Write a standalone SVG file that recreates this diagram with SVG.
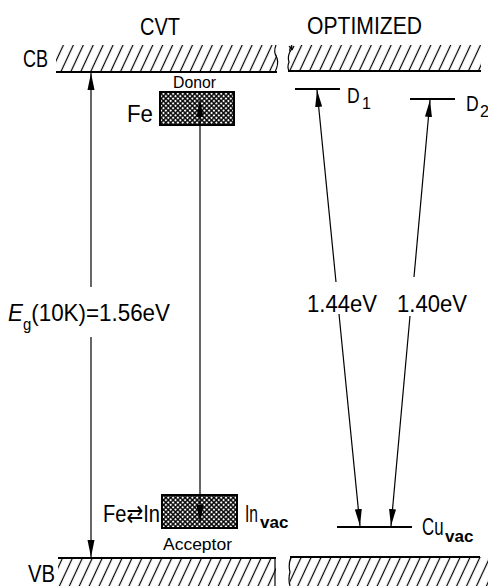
<svg xmlns="http://www.w3.org/2000/svg" width="488" height="586" viewBox="0 0 488 586">
<style>
text{font-family:"Liberation Sans","DejaVu Sans",sans-serif;fill:#000}
.big{font-size:24px}
.sm{font-size:17px}
.sub{font-size:16px}
.vac{font-size:17px;font-weight:bold}
.ln{stroke:#000;stroke-width:1.2;fill:none}
.lvl{stroke:#000;stroke-width:2.2}
.edge{stroke:#000;stroke-width:2.2}
.cut{stroke:#000;stroke-width:1.2;fill:none}
</style>
<defs>
<pattern id="hatch" width="9" height="12" patternUnits="userSpaceOnUse" patternTransform="rotate(25)">
<line x1="4.5" y1="0" x2="4.5" y2="12" stroke="#000" stroke-width="1.2"/>
</pattern>
<pattern id="xh" width="3.4" height="3.4" patternUnits="userSpaceOnUse" patternTransform="rotate(45)">
<rect width="3.4" height="3.4" fill="#000"/>
<rect x="0.7" y="0.7" width="2" height="2" fill="#fff"/>
</pattern>
<marker id="ah" markerUnits="userSpaceOnUse" markerWidth="18" markerHeight="8" viewBox="0 0 18 8" refX="17" refY="4" orient="auto">
<path d="M0,0.5 L17,4 L0,7.5 z" fill="#000"/>
</marker>
</defs>

<g id="bands">
<rect x="56" y="45" width="221" height="27" fill="url(#hatch)"/>
<line class="edge" x1="56" y1="72" x2="277" y2="72"/>
<path class="cut" d="M276,45 Q273,52 277,58 Q279,64 275,72"/>
<rect x="289" y="45" width="192" height="26" fill="url(#hatch)"/>
<line class="edge" x1="288" y1="71" x2="481" y2="71"/>
<path class="cut" d="M292,46 L291,50 Q287,56 289,62 Q287,67 289,71 M289,46 L292,50 M294,46 L292,50"/>
<rect x="58" y="558" width="218" height="28" fill="url(#hatch)"/>
<line class="edge" x1="58" y1="558" x2="276" y2="558"/>
<path class="cut" d="M275,558 L275,586"/>
<rect x="290" y="557" width="198" height="29" fill="url(#hatch)"/>
<line class="edge" x1="290" y1="557" x2="480" y2="557"/>
<path class="cut" d="M291,557 Q288,565 290,572 Q288,579 290,586"/>
</g>

<g id="titles">
<text class="big" x="140" y="35" textLength="40" lengthAdjust="spacingAndGlyphs">CVT</text>
<text class="big" x="307" y="34" textLength="115" lengthAdjust="spacingAndGlyphs">OPTIMIZED</text>
</g>

<g id="cb-label"><text class="big" x="23" y="67" textLength="25" lengthAdjust="spacingAndGlyphs">CB</text></g>
<g id="vb-label"><text class="big" x="28" y="582" textLength="27" lengthAdjust="spacingAndGlyphs">VB</text></g>

<g id="donor">
<rect x="160" y="92" width="74" height="33" fill="url(#xh)" stroke="#000" stroke-width="2"/>
<text class="sm" x="173" y="88" textLength="43" lengthAdjust="spacingAndGlyphs">Donor</text>
<text class="big" x="127" y="122" textLength="26" lengthAdjust="spacingAndGlyphs">Fe</text>
</g>

<g id="acceptor">
<rect x="162" y="495" width="75" height="33" fill="url(#xh)" stroke="#000" stroke-width="2"/>
<text class="sm" x="163" y="550" textLength="69" lengthAdjust="spacingAndGlyphs">Acceptor</text>
<text class="big" x="103" y="522" textLength="57" lengthAdjust="spacingAndGlyphs">Fe⇄In</text>
<g transform="translate(245,522) scale(0.65,1)"><text class="big" x="0" y="0">In</text></g>
<text class="vac" x="260" y="528">vac</text>
</g>

<g id="gap-label">
<text class="big" x="8" y="321" textLength="162" lengthAdjust="spacingAndGlyphs"><tspan font-style="italic">E</tspan><tspan class="sub" dy="9">g</tspan><tspan dy="-9">(10K)=1.56eV</tspan></text>
</g>

<g id="D1">
<line class="lvl" x1="295" y1="89" x2="340" y2="89"/>
<g transform="translate(347,103) scale(0.8,1)"><text x="0" y="0" style="font-size:22px">D</text></g>
<text class="sub" x="362" y="109">1</text>
</g>
<g id="D2">
<line class="lvl" x1="410" y1="99" x2="455" y2="99"/>
<g transform="translate(466,111) scale(0.8,1)"><text x="0" y="0" style="font-size:22px">D</text></g>
<text class="sub" x="480" y="117">2</text>
</g>
<g id="Cuvac">
<line class="lvl" x1="337" y1="527" x2="412" y2="527"/>
<g transform="translate(422,535) scale(0.7,1)"><text class="big" x="0" y="0">Cu</text></g>
<text class="vac" x="445" y="542">vac</text>
</g>

<g id="energy-labels">
<text class="big" x="307" y="312" textLength="70" lengthAdjust="spacingAndGlyphs">1.44eV</text>
<text class="big" x="397" y="312" textLength="70" lengthAdjust="spacingAndGlyphs">1.40eV</text>
</g>

<g id="connectors">
<line class="ln" x1="91" y1="287" x2="91" y2="73" marker-end="url(#ah)"/>
<line class="ln" x1="91" y1="337" x2="91" y2="557" marker-end="url(#ah)"/>
<line class="ln" x1="200" y1="310" x2="200" y2="100" marker-end="url(#ah)"/>
<line class="ln" x1="200" y1="310" x2="200" y2="522" marker-end="url(#ah)"/>
<line class="ln" x1="336" y1="282" x2="317" y2="90" marker-end="url(#ah)"/>
<line class="ln" x1="339" y1="314" x2="360" y2="526" marker-end="url(#ah)"/>
<line class="ln" x1="414" y1="277" x2="430" y2="100" marker-end="url(#ah)"/>
<line class="ln" x1="410" y1="316" x2="391" y2="526" marker-end="url(#ah)"/>
</g>
</svg>
